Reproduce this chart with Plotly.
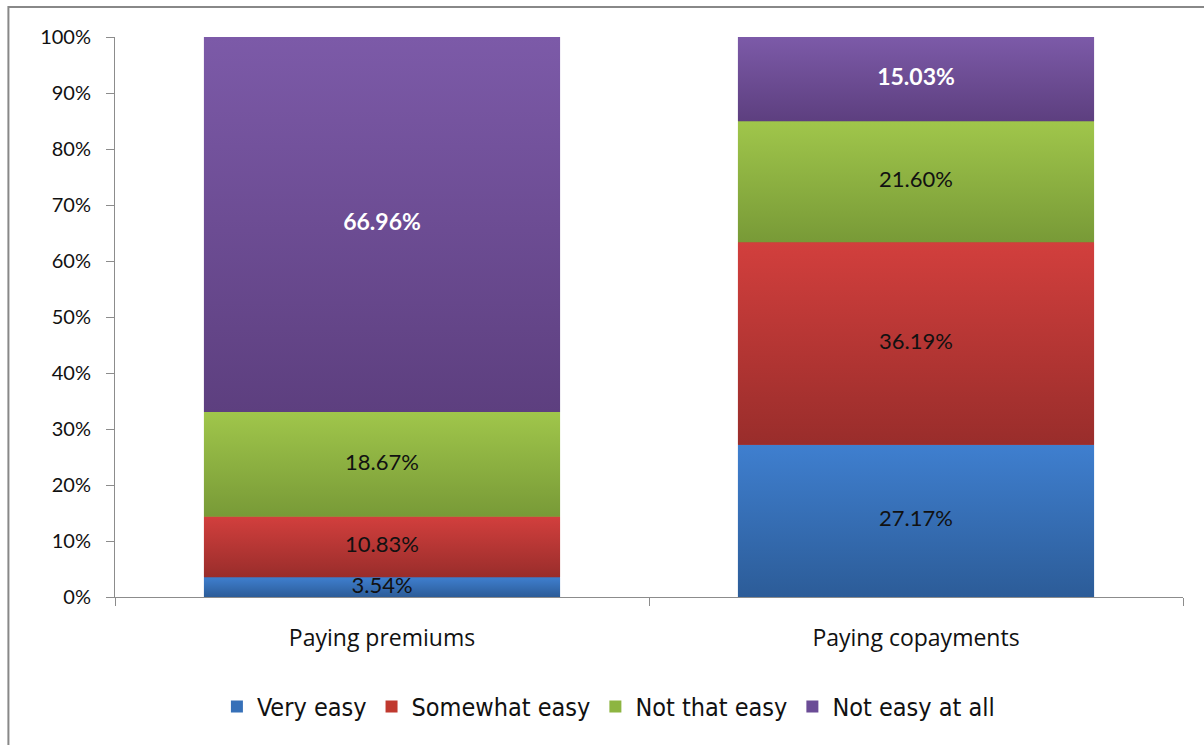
import plotly.graph_objects as go

categories = ["Paying premiums", "Paying copayments"]
series_names = ["Very easy", "Somewhat easy", "Not that easy", "Not easy at all"]
very_easy = [3.54, 27.17]
somewhat_easy = [10.83, 36.19]
not_that_easy = [18.67, 21.60]
not_easy_at_all = [66.96, 15.03]
y_ticks = [0, 10, 20, 30, 40, 50, 60, 70, 80, 90, 100]

series_values = [very_easy, somewhat_easy, not_that_easy, not_easy_at_all]
# (light top, dark bottom, legend/mid colour)
palette = [
    ("#3f7fcf", "#2c5c98", "#3670b8"),
    ("#d23f3d", "#992d2b", "#c0392f"),
    ("#a0c64b", "#789a37", "#8db541"),
    ("#7c5aa8", "#5d3f7f", "#6b4c96"),
]
label_colors = ["#111111", "#111111", "#111111", "#ffffff"]
label_bold = [False, False, False, True]

bar_width = 0.667
xpos = list(range(len(categories)))

fig = go.Figure()

# stacked bars (base layer and legend entries)
for name, vals, (top, bot, mid) in zip(series_names, series_values, palette):
    fig.add_trace(go.Bar(
        x=xpos, y=vals, width=bar_width, name=name,
        marker=dict(color=mid, line=dict(width=0)),
        hoverinfo="skip",
    ))

# vertical gradient fill on each stacked segment
bases = [0.0] * len(categories)
centers = []
for si, (vals, (top, bot, mid)) in enumerate(zip(series_values, palette)):
    seg_centers = []
    for ci, v in enumerate(vals):
        y0 = bases[ci]
        y1 = y0 + v
        x0 = xpos[ci] - bar_width / 2
        x1 = xpos[ci] + bar_width / 2
        fig.add_trace(go.Scatter(
            x=[x0, x1, x1, x0, x0], y=[y0, y0, y1, y1, y0],
            mode="lines", line=dict(width=0), fill="toself",
            fillgradient=dict(type="vertical", colorscale=[[0, bot], [1, top]]),
            showlegend=False, hoverinfo="skip",
        ))
        seg_centers.append((y0 + y1) / 2)
        bases[ci] = y1
    centers.append(seg_centers)

# value labels
for si, vals in enumerate(series_values):
    texts = [f"<b>{v:.2f}%</b>" if label_bold[si] else f"{v:.2f}%" for v in vals]
    fig.add_trace(go.Scatter(
        x=xpos, y=centers[si], mode="text", text=texts,
        textfont=dict(family="Lato", size=22 if not label_bold[si] else 23, color=label_colors[si]),
        showlegend=False, hoverinfo="skip",
    ))

fig.update_layout(
    width=1204, height=745,
    barmode="stack",
    paper_bgcolor="white", plot_bgcolor="white",
    margin=dict(l=115, r=21, t=37, b=148),
    showlegend=True,
    legend=dict(
        orientation="h", x=0.462, xanchor="center", y=-0.196, yanchor="middle",
        font=dict(family="DejaVu Sans Condensed, Liberation Sans", size=25, color="#111111"),
        itemwidth=30, traceorder="normal",
    ),
    xaxis=dict(
        range=[-0.5, 1.5], tickvals=xpos, ticktext=categories, ticks="",
        tickfont=dict(family="Open Sans", size=23, color="#111111"),
        showline=True, linecolor="#8c8c8c", linewidth=1, showgrid=False, zeroline=False,
        minor=dict(tickvals=[-0.5, 0.5, 1.5], ticks="outside", ticklen=8, tickcolor="#8c8c8c", showgrid=False),
        ticklabelstandoff=20,
    ),
    yaxis=dict(
        range=[0, 100], tickvals=y_ticks, ticktext=[f"{t}%" for t in y_ticks],
        ticks="outside", ticklen=8, tickcolor="#8c8c8c",
        tickfont=dict(family="Lato", size=20, color="#111111"),
        showline=True, linecolor="#8c8c8c", linewidth=1, showgrid=False, zeroline=False,
        ticklabelstandoff=11,
    ),
    shapes=[dict(
        type="rect", xref="paper", yref="paper", x0=-0.0998, x1=1.1, y0=-0.5, y1=1.0536,
        line=dict(color="#888888", width=2), fillcolor="rgba(0,0,0,0)", layer="below",
    )],
)

fig.write_html("out.html")
